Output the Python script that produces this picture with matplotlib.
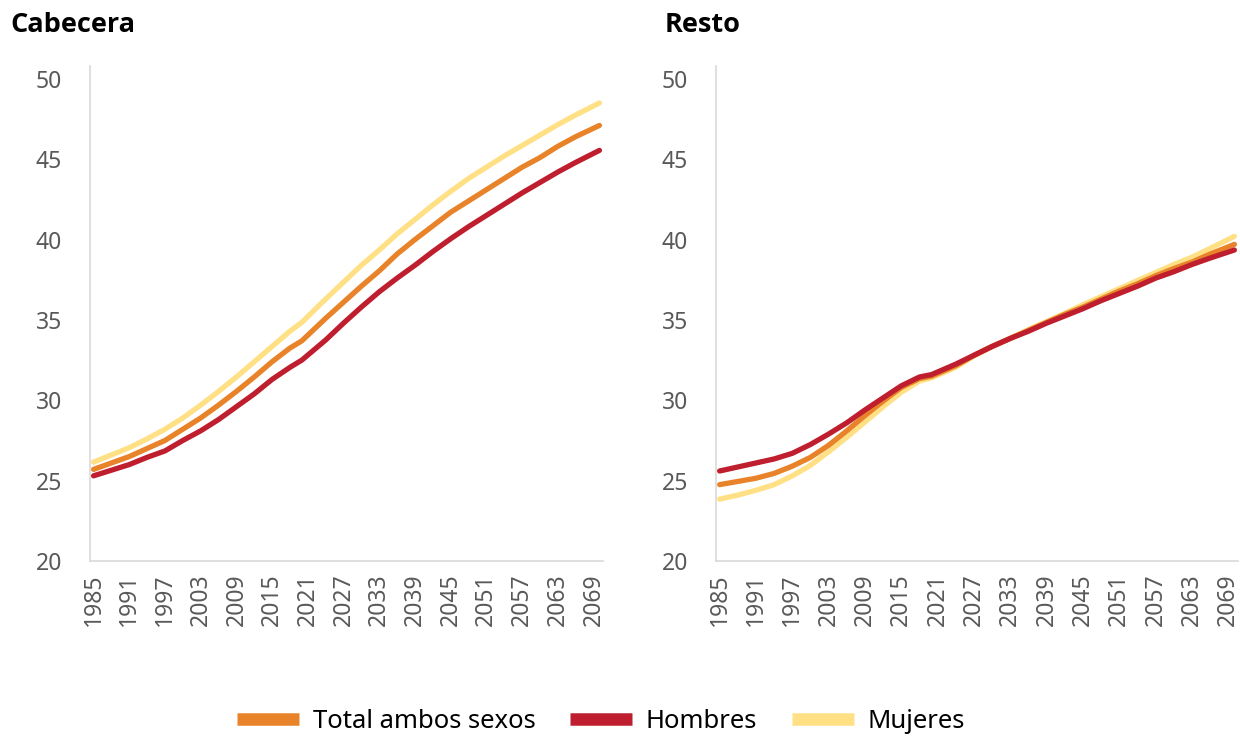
import matplotlib
matplotlib.use("Agg")
import matplotlib.pyplot as plt
from matplotlib.lines import Line2D

plt.rcParams['font.family'] = ['Noto Sans', 'DejaVu Sans']

years = [1985, 1988, 1991, 1994, 1997, 2000, 2003, 2006, 2009, 2012, 2015, 2018,
         2020, 2024, 2027, 2030, 2033, 2036, 2039, 2042, 2045, 2048, 2051, 2054,
         2057, 2060, 2063, 2066, 2070]

cab_total = [25.7, 26.1, 26.5, 27.0, 27.5, 28.2, 28.9, 29.7, 30.55, 31.45, 32.4, 33.25,
             33.7, 35.1, 36.1, 37.1, 38.05, 39.1, 40.0, 40.85, 41.7, 42.4, 43.1, 43.8,
             44.5, 45.1, 45.8, 46.4, 47.1]
cab_hombres = [25.3, 25.65, 26.0, 26.45, 26.85, 27.5, 28.1, 28.8, 29.6, 30.4, 31.3, 32.05,
               32.5, 33.75, 34.8, 35.8, 36.75, 37.6, 38.4, 39.25, 40.05, 40.8, 41.5, 42.2,
               42.9, 43.55, 44.2, 44.8, 45.55]
cab_mujeres = [26.15, 26.6, 27.05, 27.6, 28.2, 28.9, 29.7, 30.55, 31.45, 32.4, 33.35, 34.3,
               34.85, 36.3, 37.35, 38.4, 39.35, 40.35, 41.25, 42.15, 43.0, 43.8, 44.5, 45.2,
               45.85, 46.5, 47.15, 47.75, 48.5]

res_total = [24.75, 24.95, 25.15, 25.45, 25.9, 26.45, 27.2, 28.1, 29.05, 29.95, 30.8, 31.35,
             31.5, 32.15, 32.8, 33.35, 33.85, 34.35, 34.85, 35.35, 35.8, 36.3, 36.8, 37.25,
             37.75, 38.2, 38.6, 39.1, 39.7]
res_hombres = [25.6, 25.85, 26.1, 26.35, 26.7, 27.25, 27.9, 28.6, 29.4, 30.15, 30.9, 31.45,
               31.6, 32.25, 32.8, 33.35, 33.85, 34.3, 34.8, 35.25, 35.7, 36.2, 36.65, 37.1,
               37.6, 38.0, 38.45, 38.85, 39.35]
res_mujeres = [23.85, 24.1, 24.4, 24.75, 25.3, 25.95, 26.8, 27.7, 28.65, 29.6, 30.5, 31.2,
               31.4, 32.05, 32.75, 33.35, 33.85, 34.4, 34.9, 35.4, 35.95, 36.45, 36.95, 37.45,
               37.95, 38.45, 38.9, 39.45, 40.2]

xtick_years = list(range(1985, 2070, 6))
yticks = [20, 25, 30, 35, 40, 45, 50]
titles = ["Cabecera", "Resto"]
series_names = ["Total ambos sexos", "Hombres", "Mujeres"]
colors = ["#E8832A", "#BE1E2D", "#FFE085"]

W, H = 1240, 739
fig = plt.figure(figsize=(W / 100, H / 100), dpi=100)

def fig_rect(x0, x1, ytop, ybot):
    return [x0 / W, 1 - ybot / H, (x1 - x0) / W, (ybot - ytop) / H]

ax1 = fig.add_axes(fig_rect(90, 603, 66, 561))
ax2 = fig.add_axes(fig_rect(716, 1238, 66, 561))

panels = [
    (ax1, [cab_total, cab_hombres, cab_mujeres]),
    (ax2, [res_total, res_hombres, res_mujeres]),
]

for ax, data in panels:
    for vals, c, z in zip(data, colors, [3, 4, 2]):
        ax.plot(years, vals, color=c, lw=3.8, solid_capstyle='round', zorder=z)
    ax.set_xlim(1984.4, 2070.6)
    ax.set_ylim(20, 50.8)
    ax.set_yticks(yticks)
    ax.set_xticks(xtick_years)
    ax.set_xticklabels([str(y) for y in xtick_years], rotation=90)
    ax.tick_params(axis='both', length=0, labelsize=16.5, labelcolor='#595959')
    ax.tick_params(axis='y', pad=20)
    ax.tick_params(axis='x', pad=9)
    for s in ['top', 'right']:
        ax.spines[s].set_visible(False)
    for s in ['left', 'bottom']:
        ax.spines[s].set_color('#D9D9D9')
        ax.spines[s].set_linewidth(1.2)

for txt, xpx in zip(titles, [10, 665]):
    fig.text(xpx / W, 1 - 25 / H, txt, fontsize=19.5, fontweight='bold', va='center',
             ha='left', family=['Open Sans', 'DejaVu Sans'])

handles = [Line2D([0], [0], color=c, lw=9, solid_capstyle='butt') for c in colors]
fig.legend(handles, series_names, loc='center', bbox_to_anchor=(601 / W, 1 - 721 / H),
           ncol=3, frameon=False, fontsize=18.5, handlelength=2.4, handletextpad=0.55,
           columnspacing=1.35)

fig.savefig("out.png", dpi=100)
